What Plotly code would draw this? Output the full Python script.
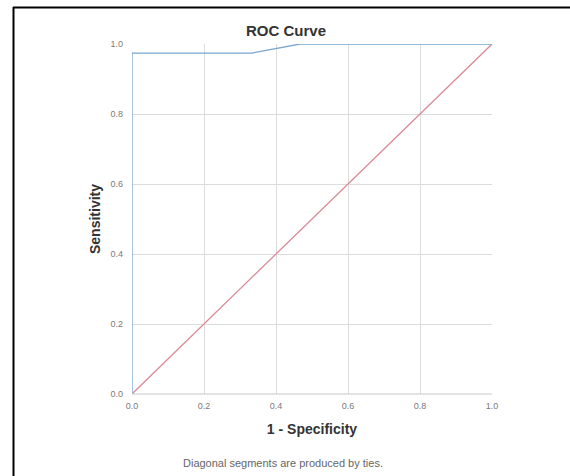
import plotly.graph_objects as go

# ROC curve data (1 - Specificity, Sensitivity)
fpr = [0.0, 0.0, 0.333, 0.467, 1.0]
tpr = [0.0, 0.974, 0.974, 1.0, 1.0]
# reference diagonal
ref_x = [0.0, 1.0]
ref_y = [0.0, 1.0]
tick_vals = [0.0, 0.2, 0.4, 0.6, 0.8, 1.0]
tick_text = ["0.0", "0.2", "0.4", "0.6", "0.8", "1.0"]

W, H = 570, 476
L, R, T, B = 132, 78, 44, 82
pw, ph = W - L - R, H - T - B

def px(x):
    return (x - L) / pw

def py(y):
    return (H - B - y) / ph

fig = go.Figure()
fig.add_trace(go.Scatter(x=ref_x, y=ref_y, mode="lines",
                         line=dict(color="#d98a96", width=1.3), showlegend=False))
fig.add_trace(go.Scatter(x=fpr, y=tpr, mode="lines",
                         line=dict(color="#7aa6cf", width=1.3), showlegend=False))

axis_common = dict(
    range=[0, 1], tickvals=tick_vals, ticktext=tick_text,
    showgrid=True, gridcolor="#dcdcdc", gridwidth=1,
    zeroline=False, showline=False, ticks="",
    tickfont=dict(family="Liberation Sans, Arial", size=9, color="#7a7a7a"),
)

fig.update_layout(
    width=W, height=H,
    margin=dict(l=L, r=R, t=T, b=B),
    paper_bgcolor="white", plot_bgcolor="white",
    font=dict(family="Liberation Sans, Arial"),
    title=dict(text="<b>ROC Curve</b>", x=(286) / W, xanchor="center",
               y=1 - 31 / H, yanchor="middle",
               font=dict(size=15, color="#333333")),
    xaxis=dict(**axis_common, ticklabelstandoff=5,
               title=dict(text="<b>1 - Specificity</b>", standoff=14,
                          font=dict(size=14, color="#333333"))),
    yaxis=dict(**axis_common, ticklabelstandoff=8,
               title=dict(text="<b>Sensitivity</b>", standoff=6,
                          font=dict(size=14, color="#333333"))),
    showlegend=False,
)

# plot area bottom axis line
fig.add_shape(type="line", xref="paper", yref="paper", x0=0, x1=1, y0=0, y1=0,
              line=dict(color="#c8c8c8", width=1))

# black frame (top and left edges)
fig.add_shape(type="line", xref="paper", yref="paper",
              x0=px(13), x1=px(575), y0=py(7.5), y1=py(7.5),
              line=dict(color="black", width=2))
fig.add_shape(type="line", xref="paper", yref="paper",
              x0=px(13.5), x1=px(13.5), y0=py(7), y1=py(480),
              line=dict(color="black", width=2))

fig.add_annotation(text="Diagonal segments are produced by ties.",
                   xref="paper", yref="paper", x=px(283), y=py(463),
                   showarrow=False, xanchor="center", yanchor="middle",
                   font=dict(size=11, color="#666666"))

fig.write_html("out.html", config={"displayModeBar": False},
               post_script="document.body.style.margin='0';document.body.style.overflow='hidden';")
